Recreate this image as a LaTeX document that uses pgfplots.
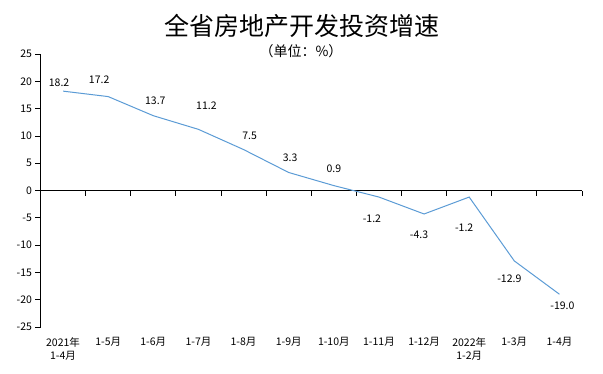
\documentclass[border=0pt]{standalone}
\usepackage{pgfplots}
\pgfplotsset{compat=1.18}
\usepackage{pgfplotstable}
\usepackage{fontspec}
\setmainfont{Noto Sans CJK SC}
\definecolor{lineblue}{RGB}{91,155,213}
\pgfplotstableread{
x y dx dy lab
0 18.2 -4 8.6 18.2
1 17.2 -9 17 17.2
2 13.7 2 15 13.7
3 11.2 8 24 11.2
4 7.5 6 14 7.5
5 3.3 1.5 15 3.3
6 0.9 0 17 0.9
7 -1.2 -7 -22 -1.2
8 -4.3 -5 -20.5 -4.3
9 -1.2 -5 -31 -1.2
10 -12.9 -5 -18 -12.9
11 -19.0 3 -12 -19.0
}\datatable
\begin{document}
\begin{tikzpicture}[x=1pt,y=1pt]
\useasboundingbox (0,0) rectangle (603,373);
\begin{axis}[
  scale only axis,
  width=541.5pt, height=273pt,
  at={(40.5pt,46pt)}, anchor=south west,
  xmin=-0.5, xmax=11.5, ymin=-25, ymax=25,
  axis lines*=left,
  axis line style={-, black, line width=0.8pt},
  x axis line style={draw=none},
  ytick={-25,-20,...,25},
  xtick={0,...,11},
  xticklabels={{2021年\\1-4月},1-5月,1-6月,1-7月,1-8月,1-9月,1-10月,1-11月,1-12月,{2022年\\1-2月},1-3月,1-4月},
  xticklabel style={align=center, font=\fontsize{10.5}{13.5}\selectfont, yshift=-2pt},
  yticklabel style={font=\fontsize{10.5}{12}\selectfont},
  /pgf/number format/assume math mode=true,
  xtick style={draw=none},
  ytick style={black, line width=0.8pt},
  tick align=outside,
  major tick length=5pt,
  ytick pos=left,
  clip=false,
  point meta=explicit symbolic,
  visualization depends on={\thisrow{dx} \as \dx},
  visualization depends on={\thisrow{dy} \as \dy},
  nodes near coords,
  every node near coord/.append style={anchor=center, xshift=\dx*1pt, yshift=\dy*1pt, font=\fontsize{10.5}{12}\selectfont, text=black},
]
\draw[black, line width=0.8pt] (axis cs:-0.5,0) -- (axis cs:11.5,0);
\pgfplotsinvokeforeach{0.5,1.5,2.5,3.5,4.5,5.5,6.5,7.5,8.5,9.5,10.5,11.5}{
  \draw[black, line width=0.8pt] ([yshift=-5pt]axis cs:#1,0) -- (axis cs:#1,0);
}
\addplot[lineblue, line width=1pt, mark=none] table[x=x, y=y, meta=lab] {\datatable};
\end{axis}
\node[font=\fontsize{25}{29}\selectfont] at (302,347) {全省房地产开发投资增速};
\node[font=\fontsize{14}{17}\selectfont] at (301,322) {（单位：\%）};
\end{tikzpicture}
\end{document}
